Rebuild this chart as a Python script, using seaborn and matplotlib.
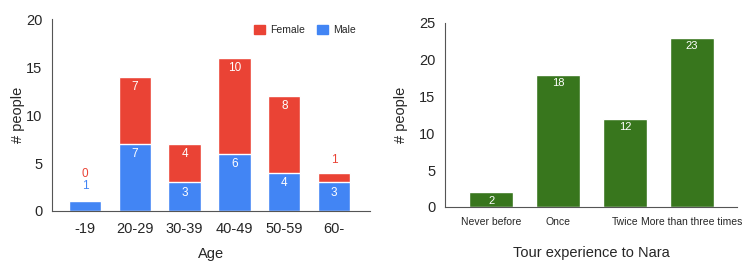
import matplotlib
matplotlib.use("Agg")
import matplotlib.pyplot as plt
import seaborn as sns
import pandas as pd
from matplotlib.patches import Patch

age_groups = ["-19", "20-29", "30-39", "40-49", "50-59", "60-"]
male = [1, 7, 3, 6, 4, 3]
female = [0, 7, 4, 10, 8, 1]

tour_cats = ["Never before", "Once", "Twice", "More than three times"]
tour_vals = [2, 18, 12, 23]

RED = "#EA4335"
BLUE = "#4285F4"
GREEN = "#38761D"

sns.set_theme(style="white")
plt.rcParams['font.family'] = ['Liberation Sans', 'DejaVu Sans']

fig = plt.figure(figsize=(7.47, 2.77), dpi=100)
ax1 = fig.add_axes([52/747, 1-211/277, (370-52)/747, (211-19.5)/277])
ax2 = fig.add_axes([445/747, 1-207/277, (737-445)/747, (207-23)/277])

df = pd.DataFrame({"age": age_groups, "male": male, "female": female})
df["total"] = df["male"] + df["female"]

sns.barplot(data=df, x="age", y="total", color=RED, width=0.65, ax=ax1, saturation=1)
sns.barplot(data=df, x="age", y="male", color=BLUE, width=0.65, ax=ax1, saturation=1)

for i, (m, f) in enumerate(zip(male, female)):
    t = m + f
    if m >= 2:
        ax1.text(i, m - 0.45, str(m), ha="center", va="top", color="white", fontsize=8.5)
    if f >= 2:
        ax1.text(i, t - 0.45, str(f), ha="center", va="top", color="white", fontsize=8.5)
# small segments labelled above the bar
ax1.text(0, 2.6, str(male[0]), ha="center", va="center", color=BLUE, fontsize=8.5)
ax1.text(0, 3.9, str(female[0]), ha="center", va="center", color=RED, fontsize=8.5)
ax1.text(5, 5.3, str(female[5]), ha="center", va="center", color=RED, fontsize=8.5)

ax1.set_ylim(0, 20)
ax1.set_xlim(-0.66, 5.72)
ax1.set_yticks([0, 5, 10, 15, 20])
ax1.set_xlabel("Age", fontsize=10.5, labelpad=8)
ax1.set_ylabel("# people", fontsize=10.5, labelpad=1)
ax1.tick_params(axis="x", labelsize=10.5, length=3, color="#555555", pad=5)
ax1.tick_params(axis="y", labelsize=10.5, length=3, color="#555555", pad=4)
handles = [Patch(color=RED, label="Female"), Patch(color=BLUE, label="Male")]
ax1.legend(handles=handles, loc="upper right", ncol=2, frameon=False, fontsize=7.5,
           handlelength=1.0, handleheight=1.0, columnspacing=1.2, handletextpad=0.5,
           bbox_to_anchor=(0.985, 1.02))

df2 = pd.DataFrame({"cat": tour_cats, "val": tour_vals})
sns.barplot(data=df2, x="cat", y="val", color=GREEN, width=0.65, ax=ax2, saturation=1)
for i, v in enumerate(tour_vals):
    ax2.text(i, v - 0.5, str(v), ha="center", va="top", color="white", fontsize=8)
ax2.set_ylim(0, 25)
ax2.set_xlim(-0.69, 3.67)
ax2.set_yticks([0, 5, 10, 15, 20, 25])
ax2.set_xlabel("Tour experience to Nara", fontsize=10.5, labelpad=14)
ax2.set_ylabel("# people", fontsize=10.5, labelpad=8)
ax2.tick_params(axis="x", labelsize=7.5, length=3, color="#555555", pad=4)
ax2.tick_params(axis="y", labelsize=10.5, length=3, color="#555555", pad=4)

for ax in (ax1, ax2):
    for s in ("top", "right"):
        ax.spines[s].set_visible(False)
    for s in ("left", "bottom"):
        ax.spines[s].set_color("#555555")
        ax.spines[s].set_linewidth(0.8)

fig.savefig("out.png", dpi=100)
